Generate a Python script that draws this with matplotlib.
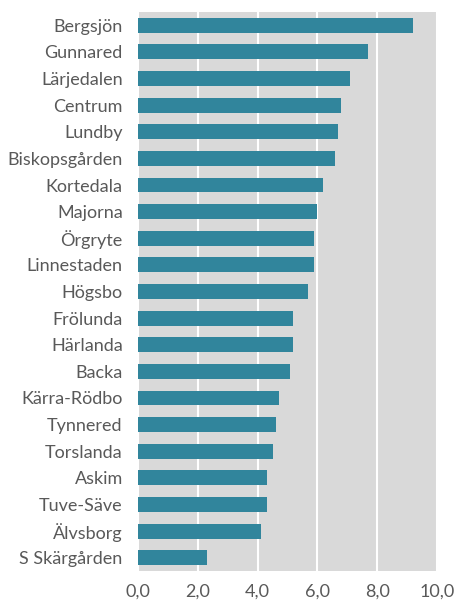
import matplotlib
matplotlib.use("Agg")
import matplotlib.pyplot as plt
from matplotlib.ticker import FuncFormatter

categories = ["Bergsjön", "Gunnared", "Lärjedalen", "Centrum", "Lundby",
              "Biskopsgården", "Kortedala", "Majorna", "Örgryte", "Linnestaden",
              "Högsbo", "Frölunda", "Härlanda", "Backa", "Kärra-Rödbo",
              "Tynnered", "Torslanda", "Askim", "Tuve-Säve", "Älvsborg",
              "S Skärgården"]
values = [9.2, 7.7, 7.1, 6.8, 6.7, 6.6, 6.2, 6.0, 5.9, 5.9, 5.7,
          5.2, 5.2, 5.1, 4.7, 4.6, 4.5, 4.3, 4.3, 4.1, 2.3]
xticks = [0, 2, 4, 6, 8, 10]

plt.rcParams['font.family'] = ['Lato', 'DejaVu Sans']

fig = plt.figure(figsize=(4.67, 6.11), dpi=100)
ax = fig.add_axes([138/467, 1 - 571/611, (437-138)/467, (571-12)/611])
ax.set_facecolor('#d9d9d9')

y = list(range(len(categories)))
ax.barh(y, values, height=0.56, color='#31859c', zorder=3)
ax.set_ylim(len(categories) - 0.5, -0.5)
ax.set_yticks(y)
ax.set_yticklabels(categories)
ax.set_xlim(0, 10)
ax.set_xticks(xticks)
ax.xaxis.set_major_formatter(FuncFormatter(lambda v, p: f"{v:.1f}".replace('.', ',')))
ax.grid(axis='x', color='white', linewidth=1.5, zorder=1)
for s in ax.spines.values():
    s.set_visible(False)
ax.tick_params(axis='both', length=0, labelsize=13, colors='#595959')
ax.tick_params(axis='y', pad=11)
ax.tick_params(axis='x', pad=9)

fig.savefig("out.png", dpi=100)
